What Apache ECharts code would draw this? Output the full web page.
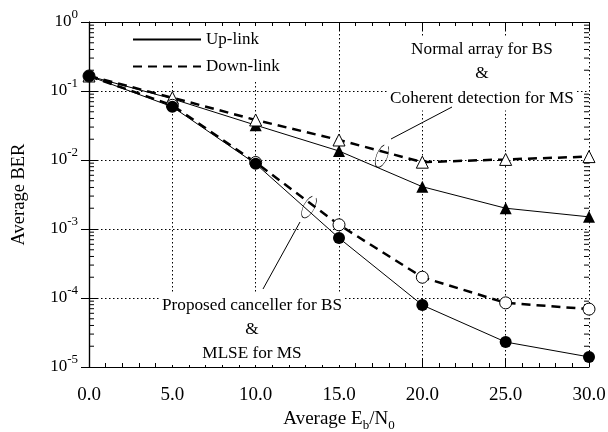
<!DOCTYPE html>
<html>
<head>
	<meta charset="UTF-8">
	<title>Average BER</title>
	<script src="https://cdn.jsdelivr.net/npm/echarts@6/dist/echarts.min.js"></script>
	<style>
		html, body { margin: 0; padding: 0; background: #fff; }
		#container { width: 608px; height: 432px; }
	</style>
</head>
<body>
<div id="container"></div>
<script>
	// Eb/N0 (dB)
	var snr = [0, 5, 10, 15, 20, 25, 30];
	// normal array for BS & coherent detection for MS
	var upNormal = [0.165, 0.077, 0.032, 0.0135, 0.0041, 0.002, 0.0015];
	var downNormal = [0.165, 0.08, 0.038, 0.0195, 0.0093, 0.0102, 0.0112];
	// proposed canceller for BS & MLSE for MS
	var upProposed = [0.165, 0.059, 0.0088, 0.00074, 0.000079, 0.000023, 0.000014];
	var downProposed = [0.165, 0.062, 0.0092, 0.00115, 0.0002, 0.000085, 0.000069];
	var xTicks = ['0.0', '5.0', '10.0', '15.0', '20.0', '25.0', '30.0'];

	var FONT = '"Liberation Serif", "DejaVu Serif", serif';

	function pairs(ys) {
		return snr.map(function (x, i) { return [x, ys[i]]; });
	}

	// minor ticks of the log axis (2..9 in each decade)
	var minorTicks = [];
	for (var k = -5; k < 0; k++) {
		for (var m = 2; m <= 9; m++) {
			minorTicks.push([0, m * Math.pow(10, k)]);
		}
	}

	var dom = document.getElementById("container");
	var myChart = echarts.init(dom);

	var axisBase = {
		axisLine: { show: true, lineStyle: { color: '#000', width: 1.2 } },
		axisTick: { show: true, inside: true, length: 8, lineStyle: { color: '#000' } }
	};

	var option = {
		animation: false,
		textStyle: { fontFamily: FONT, color: '#000' },
		grid: { left: 89, right: 19, top: 22, bottom: 65, containLabel: false, outerBoundsMode: 'none' },
		legend: {
			data: ['Up-link', 'Down-link'],
			orient: 'vertical',
			left: 127,
			top: 26,
			itemWidth: 68,
			itemHeight: 14,
			itemGap: 10,
			backgroundColor: '#fff',
			textStyle: { fontFamily: FONT, fontSize: 17, color: '#000' }
		},
		xAxis: [
			Object.assign({}, axisBase, {
				type: 'value', min: 0, max: 30, interval: 5,
				minorTick: { show: true, splitNumber: 5, length: 4, lineStyle: { color: '#000' } },
				axisLabel: {
					fontFamily: FONT, fontSize: 19, color: '#000', margin: 19,
					formatter: function (v) { return xTicks[snr.indexOf(v)]; }
				},
				splitLine: { show: true, lineStyle: { color: '#000', type: [1.5, 2.5], width: 1 } },
				name: '{s|Average E}{sub|b}{s|/N}{sub|0}',
				nameLocation: 'middle',
				nameGap: 40,
				nameTextStyle: {
					rich: {
						s: { fontFamily: FONT, fontSize: 19, color: '#000' },
						sub: { fontFamily: FONT, fontSize: 13, color: '#000', verticalAlign: 'middle', padding: [12, 0, 0, 0] }
					},
					fontFamily: FONT, fontSize: 19, color: '#000'
				}
			}),
			Object.assign({}, axisBase, {
				type: 'value', min: 0, max: 30, interval: 5, position: 'top',
				minorTick: { show: true, splitNumber: 5, length: 4, lineStyle: { color: '#000' } },
				axisLabel: { show: false },
				splitLine: { show: false }
			})
		],
		yAxis: [
			Object.assign({}, axisBase, {
				type: 'log', logBase: 10, min: 1e-5, max: 1,
				axisLabel: {
					margin: 11,
					formatter: function (v) {
						var e = Math.round(Math.log(v) / Math.LN10);
						return '{b|10}{e|' + e + '}';
					},
					rich: {
						b: { fontFamily: FONT, fontSize: 17, color: '#000', verticalAlign: 'middle' },
						e: { fontFamily: FONT, fontSize: 13, color: '#000', verticalAlign: 'middle', padding: [0, 0, 15, 0] }
					}
				},
				splitLine: { show: true, lineStyle: { color: '#000', type: [1.5, 2.5], width: 1 } },
				name: 'Average BER',
				nameLocation: 'middle',
				nameGap: 60,
				nameTextStyle: { fontFamily: FONT, fontSize: 18.5, color: '#000' }
			}),
			Object.assign({}, axisBase, {
				type: 'log', logBase: 10, min: 1e-5, max: 1, position: 'right',
				axisLabel: { show: false },
				splitLine: { show: false }
			})
		],
		graphic: [
			{
				type: 'text', x: 482, y: 37, z: 100,
				style: {
					text: 'Normal array for BS\n&\nCoherent detection for MS',
					font: '17.2px ' + FONT, fill: '#000', align: 'center',
					lineHeight: 24.5, backgroundColor: '#fff', padding: [0, 2]
				}
			},
			{
				type: 'text', x: 252, y: 293, z: 100,
				style: {
					text: 'Proposed canceller for BS\n&\nMLSE for MS',
					font: '17.2px ' + FONT, fill: '#000', align: 'center',
					lineHeight: 24, backgroundColor: '#fff', padding: [0, 2]
				}
			},
			{
				type: 'line', z: 100,
				shape: { x1: 391, y1: 139, x2: 452, y2: 107 },
				style: { stroke: '#000', lineWidth: 1 }
			},
			{
				type: 'arc', z: 100, x: 382, y: 156, rotation: -0.4, scaleX: 0.45,
				shape: { cx: 0, cy: 0, r: 12, startAngle: -1.2, endAngle: 4.3 },
				style: { stroke: '#000', lineWidth: 1, fill: null }
			},
			{
				type: 'line', z: 100,
				shape: { x1: 300, y1: 222, x2: 263, y2: 289 },
				style: { stroke: '#000', lineWidth: 1 }
			},
			{
				type: 'arc', z: 100, x: 309, y: 207, rotation: -0.5, scaleX: 0.45,
				shape: { cx: 0, cy: 0, r: 12, startAngle: -1.2, endAngle: 4.3 },
				style: { stroke: '#000', lineWidth: 1, fill: null }
			}
		],
		series: [
			{
				name: 'Up-link', type: 'line', data: [], symbol: 'none',
				itemStyle: { color: 'rgba(0,0,0,0)' },
				lineStyle: { color: '#000', width: 1 }
			},
			{
				name: 'Down-link', type: 'line', data: [], symbol: 'none',
				itemStyle: { color: 'rgba(0,0,0,0)' },
				lineStyle: { color: '#000', width: 2.5, type: [9, 6] }
			},
			{
				name: 'up normal', type: 'line', data: pairs(upNormal),
				symbol: 'triangle', symbolSize: 12,
				itemStyle: { color: '#000' },
				lineStyle: { color: '#000', width: 1 }
			},
			{
				name: 'down normal', type: 'line', data: pairs(downNormal),
				symbol: 'triangle', symbolSize: 12,
				itemStyle: { color: '#fff', borderColor: '#000', borderWidth: 1 },
				lineStyle: { color: '#000', width: 2.5, type: [9, 6] }
			},
			{
				name: 'down proposed', type: 'line', data: pairs(downProposed),
				symbol: 'circle', symbolSize: 12,
				itemStyle: { color: '#fff', borderColor: '#000', borderWidth: 1 },
				lineStyle: { color: '#000', width: 2.5, type: [9, 6] }
			},
			{
				name: 'up proposed', type: 'line', data: pairs(upProposed),
				symbol: 'circle', symbolSize: 12,
				itemStyle: { color: '#000' },
				lineStyle: { color: '#000', width: 1 }
			},
			{
				name: 'minor', type: 'custom', data: minorTicks, silent: true,
				encode: { x: 0, y: 1 },
				renderItem: function (params, api) {
					var v = api.value(1);
					var l = api.coord([0, v]);
					var r = api.coord([30, v]);
					return {
						type: 'group',
						children: [
							{ type: 'line', shape: { x1: l[0], y1: l[1], x2: l[0] + 5, y2: l[1] }, style: { stroke: '#000', lineWidth: 1 } },
							{ type: 'line', shape: { x1: r[0] - 5, y1: r[1], x2: r[0], y2: r[1] }, style: { stroke: '#000', lineWidth: 1 } }
						]
					};
				}
			}
		]
	};

	if (option && typeof option === "object") {
		myChart.setOption(option, true);
	}
</script>
</body>
</html>
